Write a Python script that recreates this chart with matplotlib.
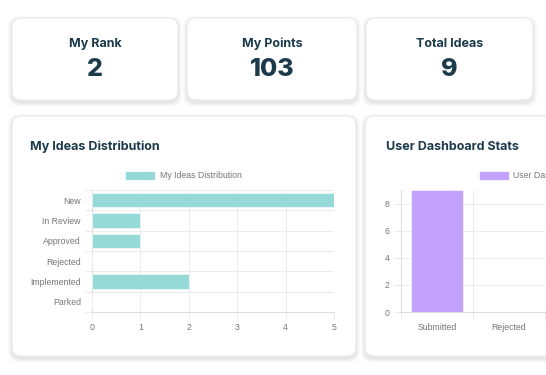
import matplotlib
matplotlib.use("Agg")
import matplotlib.pyplot as plt
from matplotlib.patches import FancyBboxPatch

# data
card_titles = ["My Rank", "My Points", "Total Ideas"]
card_values = ["2", "103", "9"]

idea_status = ["New", "In Review", "Approved", "Rejected", "Implemented", "Parked"]
idea_counts = [5, 1, 1, 0, 2, 0]

stat_labels = ["Submitted", "Rejected"]
stat_values = [9, 0]

W, H = 546, 375
navy = "#1b3a4b"
tick_grey = "#777777"
grid_grey = "#ececec"
teal = "#95dad7"
purple = "#c3a2fd"
fs_tick = 6.3

fig = plt.figure(figsize=(W / 100, H / 100), dpi=100)
fig.patch.set_facecolor("white")

bg = fig.add_axes([0, 0, 1, 1])
bg.set_xlim(0, W)
bg.set_ylim(H, 0)
bg.axis("off")


def card(x0, y0, x1, y1):
    # soft shadow then white card
    for grow, a in [(4, 0.06), (2.5, 0.08), (1.2, 0.11)]:
        bg.add_patch(FancyBboxPatch((x0 - grow, y0 - grow + 2.5), x1 - x0 + 2 * grow,
                                    y1 - y0 + 2 * grow, boxstyle="round,pad=0,rounding_size=10",
                                    fc="#9a9aa8", ec="none", alpha=a))
    bg.add_patch(FancyBboxPatch((x0, y0), x1 - x0, y1 - y0,
                                boxstyle="round,pad=0,rounding_size=9",
                                fc="white", ec="#e8e8ec", lw=0.8))


tops = [(12, 178), (187, 357), (366, 533)]
for (x0, x1), t, v in zip(tops, card_titles, card_values):
    card(x0, 18, x1, 100)
    cx = (x0 + x1) / 2
    bg.text(cx, 44, t, ha="center", va="center", fontsize=9, fontweight="bold",
            color=navy, family="Inter")
    bg.text(cx, 70, v, ha="center", va="center", fontsize=18, fontweight="heavy",
            color=navy, family="Inter")

card(12, 116, 356, 356)
card(365, 116, 560, 356)
bg.text(30, 147, "My Ideas Distribution", ha="left", va="center", fontsize=9,
        fontweight="bold", color=navy, family="Inter")
bg.text(386, 147, "User Dashboard Stats", ha="left", va="center", fontsize=9,
        fontweight="bold", color=navy, family="Inter")

# legends (chart.js style)
bg.add_patch(plt.Rectangle((125, 171), 30, 9, fc=teal, ec="white", lw=0.5))
bg.text(160, 175.5, "My Ideas Distribution", ha="left", va="center", fontsize=fs_tick,
        color=tick_grey, family="Liberation Sans")
bg.add_patch(plt.Rectangle((479, 171), 30, 9, fc=purple, ec="white", lw=0.5))
bg.text(513, 175.5, "User Dashboard Stats", ha="left", va="center", fontsize=fs_tick,
        color=tick_grey, family="Liberation Sans")


def px_axes(x0, y0, x1, y1):
    return fig.add_axes([x0 / W, 1 - y1 / H, (x1 - x0) / W, (y1 - y0) / H])


# horizontal bar chart
ax1 = px_axes(92, 190, 334, 312)
ypos = list(range(len(idea_status)))
ax1.barh(ypos, idea_counts, height=0.72, color=teal, edgecolor="white", linewidth=0.4, zorder=3)
ax1.set_xlim(0, 5)
ax1.set_ylim(len(idea_status) - 0.5, -0.5)
ax1.set_xticks(range(6))
ax1.set_yticks(ypos)
ax1.set_yticklabels(idea_status)
ax1.set_yticks([i - 0.5 for i in range(len(idea_status) + 1)], minor=True)
ax1.grid(True, axis="x", which="major", color=grid_grey, lw=0.7, zorder=0)
ax1.grid(True, axis="y", which="minor", color=grid_grey, lw=0.7, zorder=0)
ax1.tick_params(axis="y", which="major", length=0, pad=8, labelsize=fs_tick, labelcolor=tick_grey)
ax1.tick_params(axis="y", which="minor", length=5, color=grid_grey, width=0.7)
ax1.tick_params(axis="x", length=5, color=grid_grey, width=0.7, labelsize=fs_tick,
                labelcolor=tick_grey, pad=3)
for s in ax1.spines.values():
    s.set_visible(False)
ax1.spines["left"].set_visible(True)
ax1.spines["left"].set_color("#dedede")
ax1.spines["bottom"].set_visible(True)
ax1.spines["bottom"].set_color("#dedede")
for lab in ax1.get_xticklabels() + ax1.get_yticklabels():
    lab.set_family("Liberation Sans")

# vertical bar chart (cut off at the right edge)
ax2 = px_axes(401, 190, 545, 312)
xpos = list(range(len(stat_labels)))
ax2.bar(xpos, stat_values, width=0.73, color=purple, edgecolor="white", linewidth=0.4, zorder=3)
ax2.set_ylim(0, 9)
ax2.set_xlim(-0.5, len(stat_labels) - 0.5)
ax2.set_yticks([0, 2, 4, 6, 8])
ax2.set_xticks(xpos)
ax2.set_xticklabels(stat_labels)
ax2.set_xticks([i - 0.5 for i in range(len(stat_labels) + 1)], minor=True)
ax2.grid(True, axis="y", which="major", color=grid_grey, lw=0.7, zorder=0)
ax2.grid(True, axis="x", which="minor", color=grid_grey, lw=0.7, zorder=0)
ax2.tick_params(axis="x", which="major", length=0, pad=8, labelsize=fs_tick, labelcolor=tick_grey)
ax2.tick_params(axis="x", which="minor", length=6, color=grid_grey, width=0.7)
ax2.tick_params(axis="y", length=5, color=grid_grey, width=0.7, labelsize=fs_tick,
                labelcolor=tick_grey, pad=3)
for s in ax2.spines.values():
    s.set_visible(False)
ax2.spines["left"].set_visible(True)
ax2.spines["left"].set_color("#dedede")
ax2.spines["bottom"].set_visible(True)
ax2.spines["bottom"].set_color("#dedede")
for lab in ax2.get_xticklabels() + ax2.get_yticklabels():
    lab.set_family("Liberation Sans")

fig.savefig("out.png", dpi=100, facecolor="white")
